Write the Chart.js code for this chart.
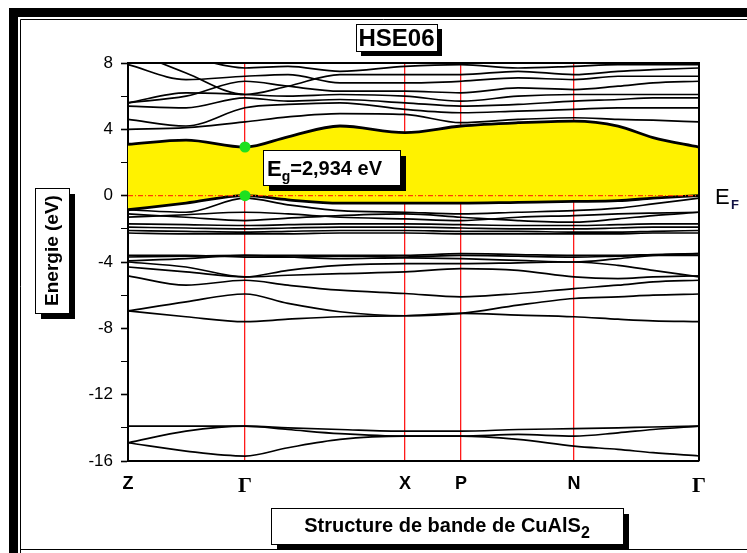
<!DOCTYPE html>
<html>
<head>
<meta charset="utf-8">
<script src="https://cdn.jsdelivr.net/npm/chart.js@4.4.1/dist/chart.umd.min.js"></script>
<style>
  html, body { margin: 0; padding: 0; background: #fff; }
  canvas { display: block; }
</style>
</head>
<body>
<canvas id="bands" width="747" height="553"></canvas>
<script>
// high symmetry points along the k-path
const kLabels = ["Z", "Γ", "X", "P", "N", "Γ"];
const kTicks = [0, 117, 277, 333, 446, 571];
const kPath = [0, 58, 117, 160, 212, 277, 333, 390, 446, 490, 525, 571];

// conduction bands (eV)
const cbMin = [3.1, 3.35, 2.93, 3.55, 4.2, 3.8, 4.2, 4.4, 4.5, 4.2, 3.5, 2.93];
const cb2 = [4.0, 4.1, 4.45, 4.75, 4.95, 4.9, 4.4, 4.6, 4.7, 4.6, 4.55, 4.45];
const cb3 = [4.6, 4.2, 5.3, 5.5, 5.6, 5.2, 5.0, 5.1, 5.2, 5.3, 5.3, 5.3];
const cb4 = [5.4, 5.3, 5.9, 5.7, 5.8, 5.6, 5.4, 5.5, 5.7, 5.8, 5.9, 5.9];
const cb5 = [5.6, 6.2, 6.1, 6.0, 6.1, 6.0, 5.7, 6.0, 6.1, 6.1, 6.1, 6.1];
const cb6 = [5.6, 6.0, 6.9, 6.6, 6.3, 6.3, 6.2, 6.5, 6.4, 6.6, 6.8, 6.9];
const cb7 = [7.9, 7.0, 7.2, 7.3, 6.8, 6.8, 6.9, 7.1, 7.0, 7.2, 7.2, 7.2];
const cb8 = [8.8, 7.4, 6.1, 6.6, 7.3, 7.3, 7.3, 7.5, 7.3, 7.5, 7.6, 7.7];
const cb9 = [9.0, 8.4, 7.7, 7.8, 7.5, 7.8, 7.9, 7.7, 7.8, 7.9, 7.9, 7.9];

// upper valence bands
const vbMax = [-0.85, -0.45, 0, -0.25, -0.45, -0.45, -0.45, -0.4, -0.35, -0.3, -0.15, 0];
const vb2 = [-0.85, -1.0, -0.15, -0.55, -0.9, -1.0, -1.1, -1.0, -0.9, -0.75, -0.5, -0.15];
const vb3 = [-1.1, -1.3, -1.5, -1.35, -1.2, -1.1, -1.3, -1.5, -1.6, -1.4, -1.2, -1.0];
const vb4 = [-1.3, -1.15, -1.0, -1.1, -1.3, -1.4, -1.5, -1.3, -1.2, -1.1, -1.05, -1.0];
const vb5 = [-1.7, -1.75, -1.8, -1.75, -1.7, -1.7, -1.75, -1.8, -1.8, -1.75, -1.7, -1.7];
const vb6 = [-1.9, -1.95, -2.0, -1.95, -1.9, -1.9, -1.95, -2.0, -2.0, -1.95, -1.9, -1.9];
const vb7 = [-2.1, -2.15, -2.2, -2.15, -2.1, -2.1, -2.15, -2.15, -2.2, -2.2, -2.15, -2.1];
const vb8 = [-2.25, -2.3, -2.3, -2.3, -2.25, -2.25, -2.3, -2.3, -2.3, -2.3, -2.25, -2.25];

// lower valence bands
const lb1 = [-6.95, -7.3, -7.6, -7.45, -7.3, -7.24, -7.1, -7.2, -7.3, -7.45, -7.55, -7.6];
const lb2 = [-6.95, -6.4, -5.93, -6.5, -7.0, -7.24, -7.1, -6.6, -6.2, -6.1, -6.0, -5.93];
const lb3 = [-4.83, -5.4, -5.1, -5.4, -5.7, -5.9, -6.1, -5.9, -5.6, -5.4, -5.2, -5.1];
const lb4 = [-4.3, -4.6, -4.9, -4.8, -4.7, -4.6, -4.4, -4.5, -4.9, -5.0, -4.9, -4.83];
const lb5 = [-4.0, -4.3, -4.9, -4.5, -4.2, -4.1, -4.1, -4.05, -4.0, -4.2, -4.5, -4.9];
const lb6 = [-3.93, -3.8, -3.6, -3.7, -3.8, -3.75, -3.8, -3.9, -4.0, -3.8, -3.6, -3.5];
const lb7 = [-3.7, -3.65, -3.6, -3.6, -3.6, -3.6, -3.5, -3.55, -3.6, -3.6, -3.55, -3.5];
const lb8 = [-3.6, -3.6, -3.7, -3.7, -3.65, -3.7, -3.6, -3.65, -3.7, -3.65, -3.6, -3.6];

// semicore bands
const sb1 = [-13.9, -13.9, -13.9, -14.0, -14.1, -14.2, -14.2, -14.1, -14.05, -14.0, -13.95, -13.9];
const sb2 = [-14.9, -14.2, -13.9, -14.1, -14.35, -14.5, -14.5, -14.4, -14.5, -14.3, -14.1, -13.9];
const sb3 = [-14.9, -15.4, -15.7, -15.2, -14.7, -14.5, -14.5, -14.7, -15.1, -15.3, -15.5, -15.7];

const fermiLevel = 0;
const gapK = [117, 117];
const gapE = [2.934, 0];
const yLabels = [8, 4, 0, -4, -8, -12, -16];

const otherBands = [cb2, cb3, cb4, cb5, cb6, cb7, cb8, cb9,
  vb2, vb3, vb4, vb5, vb6, vb7, vb8,
  lb1, lb2, lb3, lb4, lb5, lb6, lb7, lb8,
  sb1, sb2, sb3];

const toPts = arr => arr.map((e, i) => ({ x: kPath[i], y: e }));

const datasets = [];
datasets.push({
  data: gapK.map((k, i) => ({ x: k, y: gapE[i] })),
  showLine: false, pointRadius: 5.5, pointBackgroundColor: "#1fe01f",
  pointBorderWidth: 0
});
datasets.push({
  data: [{ x: kTicks[0], y: fermiLevel }, { x: kTicks[kTicks.length - 1], y: fermiLevel }],
  borderColor: "#ff3c00", borderWidth: 1.2, borderDash: [5, 2, 1, 2], pointRadius: 0
});
const cbIndex = datasets.length;
datasets.push({
  data: toPts(cbMin), borderColor: "#000", borderWidth: 2.8, pointRadius: 0,
  cubicInterpolationMode: "monotone", fill: { target: cbIndex + 1 }, backgroundColor: "#fff200"
});
datasets.push({
  data: toPts(vbMax), borderColor: "#000", borderWidth: 2.8, pointRadius: 0,
  cubicInterpolationMode: "monotone", fill: false
});
otherBands.forEach(b => datasets.push({
  data: toPts(b), borderColor: "#000", borderWidth: 1.7, pointRadius: 0,
  cubicInterpolationMode: "monotone", fill: false
}));

function shadowBox(c, x, y, w, h, off) {
  c.fillStyle = "#000";
  c.fillRect(x + off, y + off, w, h);
  c.fillStyle = "#fff";
  c.fillRect(x, y, w, h);
  c.strokeStyle = "#000";
  c.lineWidth = 1;
  c.strokeRect(x + 0.5, y + 0.5, w, h);
}

const decor = {
  id: "decor",
  beforeDraw(chart) {
    const c = chart.ctx;
    c.save();
    c.fillStyle = "#fff";
    c.fillRect(0, 0, chart.width, chart.height);
    c.restore();
  },
  afterDraw(chart) {
    const c = chart.ctx, a = chart.chartArea;
    c.save();
    // page frame
    c.fillStyle = "#000";
    c.fillRect(9, 8, 9, 545);
    c.fillRect(9, 8, 738, 9);
    c.strokeStyle = "#000";
    c.lineWidth = 1;
    c.beginPath();
    c.moveTo(20.5, 19.5); c.lineTo(20.5, 553);
    c.moveTo(20.5, 19.5); c.lineTo(747, 19.5);
    c.moveTo(20.5, 549.5); c.lineTo(747, 549.5);
    c.stroke();
    // plot box top and right
    c.lineWidth = 2;
    c.beginPath();
    c.moveTo(a.left, a.top); c.lineTo(a.right, a.top); c.lineTo(a.right, a.bottom);
    c.stroke();

    c.textBaseline = "alphabetic";
    // HSE06
    shadowBox(c, 356, 24, 81, 27, 5);
    c.fillStyle = "#000";
    c.font = "bold 24px 'Liberation Sans Narrow', 'Liberation Sans', Arial";
    c.textAlign = "center";
    c.fillText("HSE06", 396.5, 46);

    // Eg label
    shadowBox(c, 263, 150, 137, 35, 6);
    c.textAlign = "left";
    c.fillStyle = "#000";
    c.font = "bold 22px 'Liberation Sans', Arial";
    c.fillText("E", 267, 176);
    let x = 267 + c.measureText("E").width;
    c.font = "bold 14px 'Liberation Sans', Arial";
    c.fillText("g", x, 181);
    x += c.measureText("g").width;
    c.font = "bold 20px 'Liberation Sans', Arial";
    c.fillText("=2,934 eV", x, 175);

    // EF
    c.font = "22px 'Liberation Sans', Arial";
    c.fillText("E", 715, 204);
    c.font = "bold 13px 'Liberation Sans', Arial";
    c.fillStyle = "#111144";
    c.fillText("F", 731, 209);

    // y title
    shadowBox(c, 35, 188, 34, 125, 6);
    c.save();
    c.translate(58, 250.5);
    c.rotate(-Math.PI / 2);
    c.fillStyle = "#000";
    c.textAlign = "center";
    c.font = "bold 19px 'Liberation Sans', Arial";
    c.fillText("Energie (eV)", 0, 0);
    c.restore();

    // x title
    shadowBox(c, 271, 508, 352, 36, 6);
    c.fillStyle = "#000";
    c.textAlign = "left";
    c.font = "bold 20px 'Liberation Sans', Arial";
    const main = "Structure de bande de CuAlS";
    const w1 = c.measureText(main).width;
    c.font = "bold 16px 'Liberation Sans', Arial";
    const w2 = c.measureText("2").width;
    const x0 = 447 - (w1 + w2) / 2;
    c.font = "bold 20px 'Liberation Sans', Arial";
    c.fillText(main, x0, 532);
    c.font = "bold 16px 'Liberation Sans', Arial";
    c.fillText("2", x0 + w1, 538);
    c.restore();
  }
};

new Chart(document.getElementById("bands").getContext("2d"), {
  type: "line",
  data: { datasets: datasets },
  plugins: [decor],
  options: {
    responsive: false,
    animation: false,
    layout: { padding: { top: 63, right: 48, left: 0, bottom: 0 } },
    plugins: {
      legend: { display: false },
      tooltip: { enabled: false },
      filler: { drawTime: "beforeDatasetsDraw" }
    },
    scales: {
      x: {
        type: "linear",
        min: kTicks[0],
        max: kTicks[kTicks.length - 1],
        afterFit: s => { s.height = 92; },
        afterBuildTicks: s => { s.ticks = kTicks.map(v => ({ value: v })); },
        border: { display: true, color: "#000", width: 2 },
        grid: {
          drawTicks: false,
          lineWidth: 1.3,
          color: ctx => (ctx.index === 0 || ctx.index === kTicks.length - 1) ? "rgba(0,0,0,0)" : "#ff1a1a"
        },
        ticks: {
          padding: 12,
          color: "#000",
          maxRotation: 0,
          autoSkip: false,
          callback: (v, i) => kLabels[i],
          font: ctx => (ctx.tick && ctx.tick.label === "Γ")
            ? { family: "'Liberation Serif', serif", size: 22, weight: "bold" }
            : { family: "'Liberation Sans', Arial", size: 18, weight: "bold" }
        }
      },
      y: {
        min: -16,
        max: 8,
        afterFit: s => { s.width = 128; },
        border: { display: true, color: "#000", width: 2 },
        grid: {
          drawOnChartArea: false,
          drawTicks: true,
          tickLength: 7,
          tickColor: "#000",
          tickWidth: ctx => yLabels.includes(ctx.tick.value) ? 1.6 : 1
        },
        ticks: {
          stepSize: 1,
          padding: 8,
          color: "#000",
          font: { family: "'Liberation Sans', Arial", size: 17 },
          callback: v => yLabels.includes(v) ? String(v) : ""
        }
      }
    }
  }
});
</script>
</body>
</html>
